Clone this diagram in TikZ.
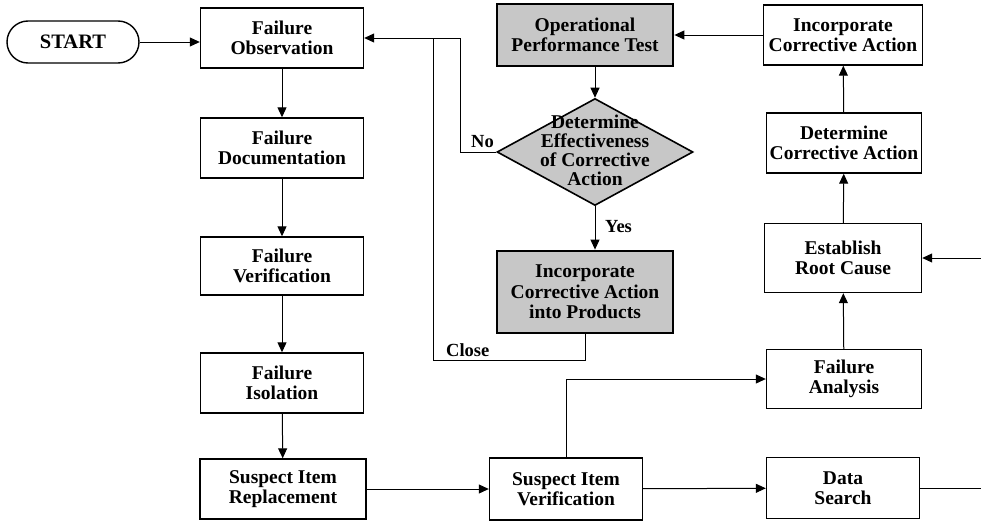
\documentclass[tikz,border=0pt]{standalone}
\usepackage{fontspec}
\setmainfont{Liberation Serif}
\usetikzlibrary{arrows.meta,shapes.geometric}
\tikzset{
  box/.style={draw=black,line width=1.4pt,fill=white,align=center,inner sep=0pt,
    font=\bfseries\fontsize{19.5}{20.5}\selectfont},
  gbox/.style={box,fill=black!22,line width=2.8pt},
  arr/.style={line width=1pt,-{Triangle[length=10pt,width=9pt]}},
  ln/.style={line width=1pt},
  lbl/.style={font=\bfseries\fontsize{18.5}{20}\selectfont,inner sep=0pt}
}
\begin{document}
\begin{tikzpicture}[x=1pt,y=-1pt]
\useasboundingbox (0,0) rectangle (981,522);
% left column
\node[box,rounded corners=21pt,minimum width=132pt,minimum height=42pt,font=\bfseries\fontsize{20.5}{22}\selectfont] (start) at (73,42) {START};
\node[box,minimum width=163pt,minimum height=60pt] (fo) at (282,38) {Failure\\Observation};
\node[box,minimum width=163pt,minimum height=60pt] (fd) at (282,148) {Failure\\Documentation};
\node[box,minimum width=163pt,minimum height=58pt] (fv) at (282,266) {Failure\\Verification};
\node[box,minimum width=163pt,minimum height=60pt] (fi) at (282,383) {Failure\\Isolation};
\node[box,minimum width=166pt,minimum height=60pt] (sir) at (283,489) {Suspect Item\\Replacement};
% bottom row
\node[box,minimum width=153pt,minimum height=62pt] (siv) at (566,489) {Suspect Item\\Verification};
\node[box,minimum width=153pt,minimum height=61pt] (ds) at (843,488) {Data\\Search};
% right column
\node[box,minimum width=155pt,minimum height=59pt] (fa) at (844,379) {Failure\\Analysis};
\node[box,minimum width=157pt,minimum height=69pt] (rc) at (843,258) {Establish\\Root Cause};
\node[box,minimum width=155pt,minimum height=60pt] (dca) at (844,143) {Determine\\Corrective Action};
\node[box,minimum width=159pt,minimum height=60pt] (ica) at (843,35) {Incorporate\\Corrective Action};
% middle
\node[gbox,minimum width=176pt,minimum height=62pt] (opt) at (585,35) {Operational\\Performance Test};
\node[diamond,draw=black,line width=1.6pt,fill=black!22,minimum width=196pt,minimum height=107pt,inner sep=0pt] (dia) at (595,152) {};
\node[align=center,font=\bfseries\fontsize{19.5}{19}\selectfont,inner sep=0pt] (diatext) at (595,150) {Determine\\Effectiveness\\of Corrective\\Action};
\node[gbox,minimum width=176pt,minimum height=82pt] (icp) at (585,292) {Incorporate\\Corrective Action\\into Products};
% coordinates
\coordinate (cl1) at (433,360);
\coordinate (no1) at (460,152);
\coordinate (dsr) at (981,488);
\coordinate (rcr) at (981,258);
% connectors
\draw[arr] (start.east) -- (start.east -| fo.west);
\draw[arr] (fo) -- (fd);
\draw[arr] (fd) -- (fv);
\draw[arr] (fv) -- (fi);
\draw[arr] (fi) -- (sir);
\draw[arr] (sir) -- (siv);
\draw[arr] (siv) -- (ds);
\draw[arr] (siv.north) |- (fa.west);
\draw[arr] (fa) -- (rc);
\draw[arr] (rc) -- (dca);
\draw[arr] (dca) -- (ica);
\draw[arr] (ica.west) -- (opt.east);
\draw[arr] (dia.north |- opt.south) -- (dia.north);
\draw[arr] (dia.south) -- (dia.south |- icp.north);
\node[lbl,anchor=west] (yeslbl) at (605,227) {Yes};
\draw[arr] (icp.south) |- (cl1) -- (cl1 |- fo.east) -- (fo.east);
\draw[ln] (dia.west) -- (no1) -- (no1 |- fo.east) -- (cl1 |- fo.east);
\node[lbl,anchor=south east] (nolbl) at (494,148) {No};
\node[lbl,anchor=south west] (closelbl) at (446,357) {Close};
\draw[ln] (ds.east) -- (dsr);
\draw[arr] (rcr) -- (rc.east);
\end{tikzpicture}
\end{document}
